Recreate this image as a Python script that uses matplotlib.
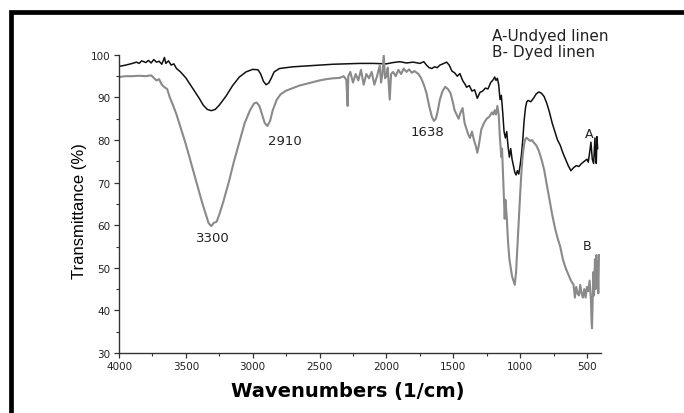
import matplotlib
matplotlib.use("Agg")
import matplotlib.pyplot as plt
from matplotlib.patches import Rectangle
from matplotlib.ticker import MultipleLocator

# curve A - undyed linen (wavenumber, transmittance)
wn_a = [4000, 3950, 3900, 3870, 3850, 3830, 3800, 3780, 3760, 3740, 3720, 3700,
        3680, 3660, 3650, 3630, 3610, 3590, 3570, 3540, 3500, 3450, 3400, 3370,
        3340, 3310, 3280, 3250, 3200, 3150, 3100, 3050, 3000, 2960, 2940, 2920,
        2900, 2880, 2860, 2840, 2800, 2750, 2700, 2600, 2500, 2400, 2300, 2200,
        2100, 2000, 1950, 1900, 1850, 1800, 1750, 1720, 1700, 1680, 1660, 1640,
        1620, 1600, 1570, 1550, 1530, 1510, 1490, 1470, 1450, 1430, 1410, 1400,
        1380, 1360, 1340, 1320, 1300, 1280, 1260, 1240, 1220, 1200, 1190, 1180,
        1170, 1160, 1150, 1140, 1130, 1120, 1110, 1100, 1090, 1080, 1070, 1060,
        1050, 1040, 1030, 1020, 1010, 1000, 990, 980, 970, 960, 950, 940, 920,
        900, 880, 860, 840, 820, 800, 780, 760, 740, 720, 700, 680, 660, 640,
        620, 600, 580, 560, 540, 520, 500, 490, 480, 470, 460, 450, 440, 435,
        430, 425, 420]
tr_a = [97.3, 97.6, 98.0, 98.3, 98.0, 98.6, 98.2, 98.7, 98.1, 98.9, 98.3, 98.5,
        97.8, 99.4, 98.0, 98.6, 97.6, 97.9, 96.8, 96.0, 94.6, 92.2, 89.8, 88.2,
        87.2, 86.9, 87.2, 88.2, 90.3, 92.8, 94.8, 96.0, 96.6, 96.5, 95.5, 93.8,
        93.0, 93.4, 94.6, 96.0, 96.8, 97.0, 97.2, 97.4, 97.6, 97.8, 97.9, 98.0,
        98.0, 97.9, 98.2, 98.4, 98.1, 98.3, 98.0, 98.4, 97.6, 97.0, 96.8, 97.2,
        97.0, 97.6, 98.0, 98.3, 97.6, 96.2, 95.8, 95.0, 95.6, 94.0, 93.0, 92.4,
        92.8, 91.5, 91.8, 89.8, 91.2, 91.5, 92.2, 92.0, 93.5, 94.2, 94.8, 94.0,
        94.5, 93.0, 89.5, 90.5, 86.5, 82.0, 80.5, 82.0, 78.5, 76.0, 78.0, 75.5,
        74.0, 72.5, 71.8, 72.8, 72.0, 74.0, 76.5, 80.0, 84.5, 87.5, 89.0, 89.3, 89.0,
        89.8, 90.8, 91.3, 91.0, 90.2, 88.6, 86.5, 84.0, 82.0, 80.0, 78.8, 77.0, 75.5, 74.0,
        72.8, 73.5, 74.0, 73.8, 74.5, 75.0, 75.5, 74.8, 77.0, 79.5, 75.5, 74.5, 80.5, 76.0,
        74.5, 80.8, 78.0]

# curve B - dyed linen
wn_b = [4000, 3950, 3900, 3850, 3800, 3760, 3740, 3720, 3700, 3680, 3660, 3640,
        3620, 3600, 3570, 3540, 3500, 3460, 3420, 3380, 3350, 3330, 3310, 3290,
        3270, 3250, 3220, 3180, 3140, 3100, 3060, 3020, 2990, 2970, 2950, 2930,
        2910, 2890, 2870, 2850, 2820, 2790, 2750, 2700, 2650, 2600, 2550, 2500,
        2450, 2400, 2350, 2320, 2300, 2290, 2285, 2270, 2250, 2230, 2210, 2190,
        2170, 2150, 2130, 2110, 2090, 2070, 2050, 2040, 2030, 2020, 2010, 2000,
        1990, 1975, 1965, 1950, 1930, 1910, 1890, 1870, 1850, 1830, 1810, 1790,
        1760, 1740, 1720, 1700, 1680, 1660, 1645, 1630, 1615, 1600, 1580, 1560,
        1540, 1520, 1500, 1490, 1475, 1460, 1445, 1430, 1415, 1400, 1390, 1375,
        1360, 1345, 1330, 1320, 1310, 1300, 1290, 1270, 1250, 1230, 1210, 1200,
        1190, 1180, 1170, 1160, 1150, 1140, 1135, 1125, 1115, 1110, 1100, 1090,
        1080, 1070, 1060, 1050, 1040, 1035, 1030, 1020, 1010, 1000, 990, 980,
        970, 960, 950, 940, 925, 910, 900, 880, 860, 840, 820, 800, 780, 760,
        740, 720, 700, 680, 660, 640, 620, 600, 590, 580, 570, 560, 550, 540,
        530, 520, 510, 500, 490, 480, 470, 465, 462, 458, 452, 447, 440, 435,
        430, 425, 420, 415, 410]
tr_b = [94.8, 95.0, 95.0, 95.1, 95.0, 95.2, 94.6, 94.0, 94.3, 93.0, 92.4, 92.0,
        90.0, 88.5, 86.0, 83.0, 79.0, 74.5, 70.0, 65.5, 62.5, 60.5, 59.8, 60.6,
        60.8, 62.5, 65.5, 70.0, 75.0, 79.5, 84.0, 87.0, 88.6, 88.8, 88.0, 86.0,
        84.0, 83.3, 84.5, 87.0, 89.5, 90.8, 91.6, 92.2, 92.8, 93.2, 93.6, 94.0,
        94.3, 94.5, 94.6, 95.0, 94.2, 88.0, 95.0, 96.0, 93.5, 95.5, 94.0, 96.5,
        93.0, 95.5, 94.5, 96.0, 93.0, 95.0, 97.5, 93.5, 95.5, 100.0, 94.5, 95.0,
        97.0, 89.5, 95.5, 96.0, 95.0, 96.5, 95.5, 96.8, 96.0, 96.6, 95.8, 96.2,
        95.5, 94.5, 93.0, 91.0, 88.0, 85.5, 84.5, 85.0, 87.0, 89.5, 91.5, 92.5,
        92.0, 91.0, 88.5, 87.0, 86.0, 85.0, 86.5, 87.5, 84.0, 82.5, 81.5, 80.5,
        82.0, 80.0, 78.5, 77.0, 78.5, 80.5, 82.5, 84.0, 85.0, 85.5, 86.5, 86.0,
        87.0, 86.0, 88.0, 86.0, 80.0, 76.0, 78.0, 70.0, 61.5, 66.0, 62.0, 56.0,
        52.0, 50.0, 48.0, 47.0, 46.0, 47.5, 49.0, 55.0, 61.0, 67.0, 72.5, 76.5,
        79.0, 80.3, 80.5, 80.2, 79.8, 80.0, 79.5, 78.8, 77.5, 75.5, 73.0, 69.5, 66.0, 62.5,
        59.5, 57.0, 55.0, 52.0, 50.0, 48.5, 47.0, 46.0, 43.0, 45.5, 44.0, 43.5, 46.0, 44.0,
        43.0, 45.0, 43.0, 45.5, 44.5, 47.0, 42.5, 37.0, 35.8, 41.0, 49.0, 43.5, 52.0, 45.0,
        53.0, 47.0, 51.5, 44.0, 53.0]

peaks = ["3300", "2910", "1638"]
peak_pos = [(3297, 57.0), (2760, 79.8), (1690, 82.0)]

fig = plt.figure(figsize=(6.84, 4.14), dpi=100)
ax = fig.add_axes([0.174, 0.145, 0.705, 0.72])

ax.plot(wn_a, tr_a, color="#111111", lw=1.1)
ax.plot(wn_b, tr_b, color="#8a8a8a", lw=1.5)

ax.set_xlim(4000, 393)
ax.set_ylim(30, 100)
ax.xaxis.set_major_locator(MultipleLocator(500))
ax.xaxis.set_minor_locator(MultipleLocator(250))
ax.yaxis.set_major_locator(MultipleLocator(10))
ax.yaxis.set_minor_locator(MultipleLocator(5))
ax.tick_params(which="major", length=3.5, width=0.9, color="#333333",
               labelsize=7.5, labelcolor="#222222", pad=2.5)
ax.tick_params(which="minor", length=2, width=0.8, color="#333333")
for s in ["top", "right"]:
    ax.spines[s].set_visible(False)
for s in ["left", "bottom"]:
    ax.spines[s].set_color("#333333")
    ax.spines[s].set_linewidth(1.0)

for lab, (x, y) in zip(peaks, peak_pos):
    ax.text(x, y, lab, fontsize=9.5, ha="center", va="center", color="#222222")
ax.text(480, 81.5, "A", fontsize=9, ha="center", va="center", color="#222222")
ax.text(497, 55.3, "B", fontsize=9, ha="center", va="center", color="#222222")

ax.set_xlabel("Wavenumbers (1/cm)", fontsize=14, fontweight="bold")
ax.xaxis.set_label_coords(0.475, -0.095)
ax.set_ylabel("Transmittance (%)", fontsize=12, family="Liberation Sans")
ax.yaxis.set_label_coords(-0.066, 0.48)

fig.text(0.719, 0.913, "A-Undyed linen", fontsize=11, va="center", color="#222222")
fig.text(0.719, 0.872, "B- Dyed linen", fontsize=11, va="center", color="#222222")

# black frame around the picture
fig.patches.append(Rectangle((10.5 / 684, -0.2), 1.2, 1 - 13 / 414 + 0.2,
                             transform=fig.transFigure, fill=False,
                             edgecolor="black", lw=3.4))

fig.savefig("out.png", dpi=100)
